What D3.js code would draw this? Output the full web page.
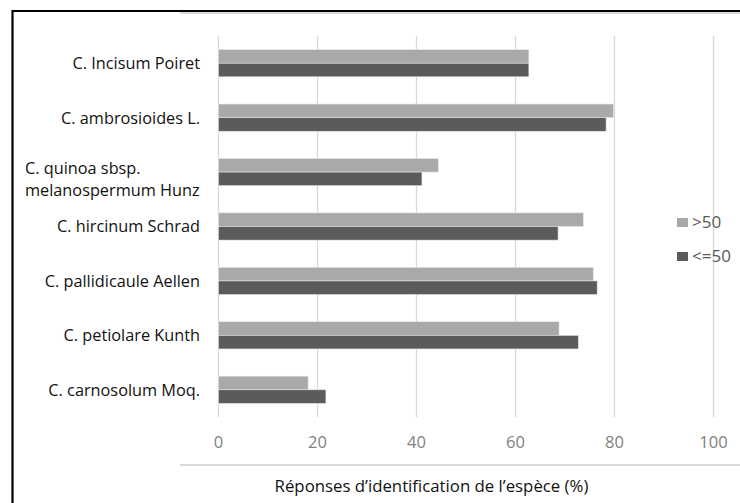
<!DOCTYPE html>
<html>
<head>
<meta charset="utf-8">
<script src="https://cdn.jsdelivr.net/npm/d3@7"></script>
<style>
  body { margin: 0; background: #fff; }
  svg { display: block; font-family: "Open Sans", Lato, sans-serif; }
</style>
</head>
<body>
<div id="chart"></div>
<script>
'use strict';

// categories, top to bottom
var especes = [
  ["C. Incisum Poiret"],
  ["C. ambrosioides L."],
  ["C. quinoa sbsp.", "melanospermum Hunz"],
  ["C. hircinum Schrad"],
  ["C. pallidicaule Aellen"],
  ["C. petiolare Kunth"],
  ["C. carnosolum Moq."]
];
var plus50 = [62.7, 79.8, 44.4, 73.7, 75.7, 68.8, 18.1];   // >50
var moins50 = [62.7, 78.3, 41.1, 68.6, 76.5, 72.7, 21.7];  // <=50
var series = [">50", "<=50"];
var ticksX = [0, 20, 40, 60, 80, 100];

var width = 740, height = 503;
var couleurs = {">50": "#a9a9a9", "<=50": "#5b5b5b"};

var svg = d3.select("#chart").append("svg")
    .attr("width", width)
    .attr("height", height);

var x = d3.scaleLinear()
    .domain([0, 100])
    .range([218.5, 713.5]);

var y = d3.scaleBand()
    .domain(d3.range(especes.length))
    .range([36, 417])
    .paddingInner(0.5)
    .paddingOuter(0.25);

var ySub = d3.scaleBand()
    .domain(series)
    .range([0, y.bandwidth()]);

// light frame line
svg.append("line")
    .attr("x1", 180).attr("x2", width)
    .attr("y1", 13).attr("y2", 13)
    .attr("stroke", "#d9d9d9").attr("stroke-width", 2);

// gridlines
svg.append("g")
  .selectAll("line")
  .data(ticksX)
  .join("line")
    .attr("x1", d => x(d)).attr("x2", d => x(d))
    .attr("y1", 36).attr("y2", 417)
    .attr("stroke", "#d9d9d9")
    .attr("stroke-width", 1.3);

var data = especes.map((e, i) => ({i: i, nom: e, ">50": plus50[i], "<=50": moins50[i]}));

var groupes = svg.append("g")
  .selectAll("g")
  .data(data)
  .join("g")
    .attr("transform", d => "translate(0," + y(d.i) + ")");

groupes.selectAll("rect")
  .data(d => series.map(s => ({serie: s, valeur: d[s]})))
  .join("rect")
    .attr("x", x(0))
    .attr("y", d => ySub(d.serie))
    .attr("width", d => x(d.valeur) - x(0))
    .attr("height", ySub.bandwidth())
    .attr("fill", d => couleurs[d.serie])
    .attr("stroke", "#e6e6e6")
    .attr("stroke-width", 0.6);

// category labels
groupes.append("text")
    .attr("font-size", "16.3px")
    .attr("fill", "#111")
    .attr("text-anchor", d => d.nom.length > 1 ? "start" : "end")
    .attr("x", d => d.nom.length > 1 ? 25 : 200)
  .selectAll("tspan")
  .data(d => d.nom)
  .join("tspan")
    .attr("x", function() { return d3.select(this.parentNode).attr("x"); })
    .attr("y", (d, k, n) => y.bandwidth() / 2 + (n.length > 1 ? 2 : 6) + k * 22)
    .text(d => d);

// x tick labels
svg.append("g")
  .selectAll("text")
  .data(ticksX)
  .join("text")
    .attr("x", d => x(d))
    .attr("y", 447.5)
    .attr("text-anchor", "middle")
    .attr("font-size", "16.5px")
    .attr("fill", "#7f7f7f")
    .text(d => d);

// axis line under labels
svg.append("line")
    .attr("x1", 180).attr("x2", width)
    .attr("y1", 465).attr("y2", 465)
    .attr("stroke", "#d9d9d9").attr("stroke-width", 2);

svg.append("text")
    .attr("x", 431.5)
    .attr("y", 491.5)
    .attr("text-anchor", "middle")
    .attr("font-size", "16.8px")
    .attr("fill", "#111")
    .text("Réponses d\u2019identification de l\u2019espèce (%)");

// legend
var legende = svg.append("g")
  .selectAll("g")
  .data(series)
  .join("g")
    .attr("transform", (d, i) => "translate(677," + (218 + i * 34) + ")");

legende.append("rect")
    .attr("width", 11).attr("height", 9)
    .attr("fill", d => couleurs[d]);

legende.append("text")
    .attr("x", 15)
    .attr("y", 9.5)
    .attr("font-size", "17px")
    .attr("fill", "#595959")
    .text(d => d);

// black frame
svg.append("path")
    .attr("d", "M12.5," + height + "V11H" + width)
    .attr("fill", "none")
    .attr("stroke", "#000")
    .attr("stroke-width", 2.2);
</script>
</body>
</html>
